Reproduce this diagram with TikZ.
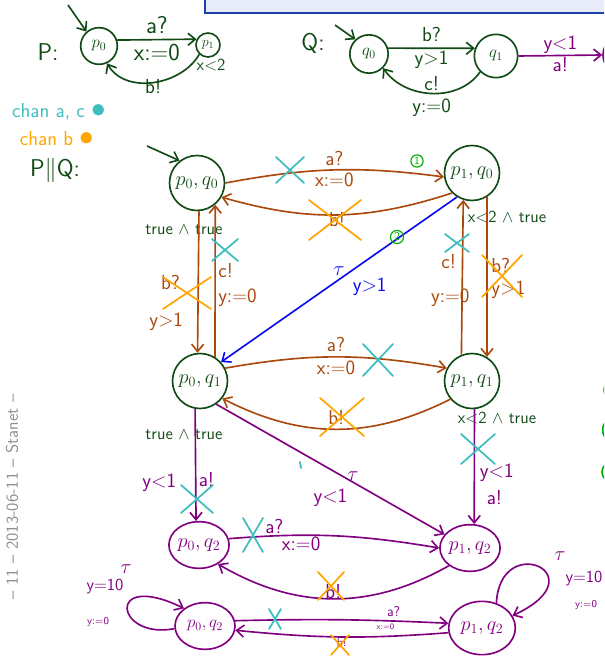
\documentclass[tikz,border=0pt]{standalone}
\usepackage{tikz}
\usetikzlibrary{arrows.meta, positioning, shapes.geometric}
\renewcommand{\familydefault}{\sfdefault}
\definecolor{hwGreen}{RGB}{16, 74, 20}
\definecolor{hwBrown}{RGB}{170, 72, 14}
\definecolor{hwPurple}{RGB}{128, 0, 128}
\definecolor{hwTeal}{RGB}{62, 190, 190}
\definecolor{hwOrange}{RGB}{255, 166, 0}
\definecolor{hwBlue}{RGB}{10, 10, 240}
\definecolor{hwLime}{RGB}{0, 176, 0}
\definecolor{slideBlue}{RGB}{232, 236, 250}
\definecolor{slideLine}{RGB}{30, 64, 170}
\tikzset{
  state/.style={circle, draw=hwGreen, text=hwGreen, line width=1.4pt, minimum size=1.65cm, inner sep=0pt, font=\LARGE},
  pstate/.style={ellipse, draw=hwPurple, text=hwPurple, line width=1.4pt, minimum width=1.8cm, minimum height=1.4cm, inner sep=0pt, font=\LARGE},
  hw/.style={line width=1.4pt, -{Straight Barb[length=2.2mm, width=3.6mm]}},
  lbl/.style={font=\LARGE, inner sep=1pt},
  xstroke/.style={line width=1.5pt, line cap=round},
  numbered/.style={circle, draw=hwLime, text=hwLime, line width=1pt, inner sep=1pt, font=\small},
}
% colour, centre, half width, half height
\newcommand{\crossat}[4]{\draw[xstroke, #1, shift={(#2)}] (-#3,-#4) -- (#3,#4) (-#3,#4) -- (#3,-#4);}

\begin{document}
\begin{tikzpicture}[x=0.03cm, y=-0.03cm]
  \useasboundingbox (0,0) rectangle (604,657);
  \begin{scope}
  \clip (0,0) rectangle (604,657);

  % slide title bar
  \fill[slideBlue] (205,-5) rectangle (610,13);
  \draw[slideLine, line width=1.2pt] (205,-5) -- (205,13) -- (610,13);

  % footer
  \node[rotate=90, text=black!45, font=\Large] (footer) at (12,497) {-- 11 -- 2013-06-11 -- Stanet --};

  % automaton P
  \node[hwGreen, font=\huge] (Plbl) at (48,52) {P:};
  \node[state, minimum size=1.1cm, font=\Large] (p0) at (99,46) {$p_0$};
  \node[state, minimum size=0.72cm, font=\large] (p1) at (208,45) {$p_1$};
  \coordinate (p0in) at (68,5);
  \draw[hw, hwGreen] (p0in) -- (p0.131);
  \draw[hw, hwGreen] (p0.18) -- node[lbl, font=\huge, above=3pt]{a?} node[lbl, font=\huge, below=2pt]{x:=0} (p1.153);
  \draw[hw, hwGreen] (p1.227) to[out=-120, in=-60]
    node[lbl, pos=.12, right=3pt, font=\Large]{x<2} node[lbl, pos=.5, below=-4pt]{b!} (p0.-65);

  % automaton Q
  \node[hwGreen, font=\huge] (Qlbl) at (313,43) {Q:};
  \node[state, minimum size=1.15cm, font=\Large] (q0) at (369,54) {$q_0$};
  \node[state, minimum size=1.3cm, font=\Large] (q1) at (496,56) {$q_1$};
  \node[pstate, minimum width=1.5cm, minimum height=1.35cm] (q2) at (628,55) {};
  \coordinate (q0in) at (335,25);
  \draw[hw, hwGreen] (q0in) -- (q0.133);
  \draw[hw, hwGreen] (q0.17) -- node[lbl, above=4pt]{b?} node[lbl, below=1pt]{y>1} (q1.160);
  \draw[hw, hwGreen] (q1.225) to[out=-125, in=-55]
    node[lbl, pos=.5, above=1pt]{c!} node[lbl, pos=.5, below=3pt]{y:=0} (q0.-45);
  \draw[hw, hwPurple] (q1.east) -- node[lbl, hwPurple, above]{y<1} node[lbl, hwPurple, below]{a!} (q2.west);

  % channels
  \node[hwTeal, font=\LARGE] (chanac) at (59,112) {chan a, c {\Huge$\bullet$}};
  \node[hwOrange, font=\LARGE] (chanb) at (57,139) {chan b {\Huge$\bullet$}};
  \node[hwGreen, font=\huge] (PQlbl) at (55,170) {P$\|$Q:};

  % product states
  \node[state] (p0q0) at (197,183) {$p_0,q_0$};
  \node[state] (p1q0) at (472,173) {$p_1,q_0$};
  \node[state] (p0q1) at (200,381) {$p_0,q_1$};
  \node[state] (p1q1) at (472,381) {$p_1,q_1$};
  \node[pstate] (p0q2) at (199,545) {$p_0,q_2$};
  \node[pstate] (p1q2) at (470,548) {$p_1,q_2$};
  \node[pstate, font=\Large] (p0q2b) at (205,626) {$p_0,q_2$};
  \node[pstate, minimum width=2cm, minimum height=1.6cm] (p1q2b) at (482,628) {$p_1,q_2$};

  \node[hwGreen, font=\Large] (inv00) at (184,230) {true $\wedge$ true};
  \node[hwGreen, font=\Large] (inv10) at (507,217) {x<2 $\wedge$ true};
  \node[hwGreen, font=\Large] (inv01) at (184,435) {true $\wedge$ true};
  \node[hwGreen, font=\Large] (inv11) at (497,418) {x<2 $\wedge$ true};

  \coordinate (init) at (147,146);
  \draw[hw, hwGreen] (init) -- (p0q0.128);

  % brown transitions
  \draw[hw, hwBrown] (p0q0.east) to[bend left=9]
    node[lbl, above=2pt]{a?} node[lbl, below=1pt]{x:=0} (p1q0.188);
  \draw[hw, hwBrown] (p1q0.-135) to[bend left=17]
    node[lbl, midway, yshift=-4pt]{b!} (p0q0.-30);
  \draw[hw, hwBrown] (p0q0.-86) --
    node[lbl, pos=.5, left=14pt]{b?} node[lbl, pos=.78, left=11pt]{y>1} (p0q1.95);
  \draw[hw, hwBrown] (p0q1.58) --
    node[lbl, pos=.39, right=1pt]{y:=0} node[lbl, pos=.57, right=1pt]{c!} (p0q0.-50);
  \draw[hw, hwBrown] (p1q0.-58) --
    node[lbl, pos=.43, right=2pt]{b?} node[lbl, pos=.58, right=2pt]{y>1} (p1q1.58);
  \draw[hw, hwBrown] (p1q1.112) --
    node[lbl, pos=.37, left=-8pt]{y:=0} node[lbl, pos=.6, left=4pt]{c!} (p1q0.-108);
  \draw[hw, hwBrown] (p0q1.27) to[bend left=10]
    node[lbl, above=3pt]{a?} node[lbl, below=2pt]{x:=0} (p1q1.153);
  \draw[hw, hwBrown] (p1q1.-140) to[bend left=27]
    node[lbl, pos=.5, above=2pt]{b!} (p0q1.-38);

  % tau step
  \draw[hw, hwBlue] (p1q0.-122) --
    node[lbl, pos=.5, above=2pt]{$\tau$} node[lbl, pos=.45, below right=4pt and 0pt]{y>1} (p0q1.42);
  \node[numbered] (one) at (417,161) {1};
  \node[numbered, font=\normalsize] (two) at (397,237) {2};

  % purple transitions
  \draw[hw, hwPurple] (p0q1.-100) --
    node[lbl, pos=.66, left=15pt]{y<1} node[lbl, pos=.63, right=1pt]{a!} (p0q2.97);
  \draw[hw, hwPurple] (p0q1.-55) --
    node[lbl, pos=.6, above]{$\tau$} node[lbl, pos=.5, below=15pt]{y<1} (p1q2.152);
  \draw[hw, hwPurple] (p1q1.-85) --
    node[lbl, pos=.55, right=3pt]{y<1} node[lbl, pos=.77, right=9pt]{a!} (p1q2.80);
  \draw[hw, hwPurple] (p0q2.12) to[bend left=7]
    node[lbl, pos=.2, above]{a?} node[lbl, pos=.33, below]{x:=0} (p1q2.180);
  \draw[hw, hwPurple] (p1q2.-140) to[bend left=30]
    node[lbl, pos=.5, above=-2pt]{b!} (p0q2.-45);
  \draw[hw, hwPurple] (p0q2b.10) to[bend left=2]
    node[font=\large, pos=.76, above]{a?} node[font=\scriptsize, pos=.72, below=-1pt]{x:=0} (p1q2b.172);
  \draw[hw, hwPurple] (p1q2b.188) to[bend left=5]
    node[font=\normalsize, pos=.5, below=-3pt]{b!} (p0q2b.-8);
  \draw[hw, hwPurple] (p0q2b.185) .. controls (115,640) and (105,570) .. (p0q2b.140);
  \draw[hw, hwPurple] (p1q2b.60) .. controls (500,530) and (600,575) .. (p1q2b.22);
  \node[hwPurple, font=\LARGE] (tauL) at (126,569) {$\tau$};
  \node[hwPurple, font=\Large] (guardL) at (105,587) {y=10};
  \node[hwPurple, font=\small] (resetL) at (98,622) {y:=0};
  \node[hwPurple, font=\LARGE] (tauR) at (560,556) {$\tau$};
  \node[hwPurple, font=\Large] (guardR) at (584,579) {y=10};
  \node[hwPurple, font=\small] (resetR) at (586,605) {y:=0};

  % struck-out transitions
  \crossat{hwTeal}{290,170}{14}{13}
  \crossat{hwTeal}{225,250}{13}{11}
  \crossat{hwTeal}{457,243}{12}{9}
  \crossat{hwTeal}{378,360}{15}{16}
  \crossat{hwTeal}{197,499}{16}{14}
  \crossat{hwTeal}{478,449}{17}{15}
  \crossat{hwTeal}{253,535}{10}{17}
  \crossat{hwTeal}{275,619}{6}{10}
  \draw[xstroke, hwTeal] (300,462) -- (301,468);
  \crossat{hwOrange}{335,220}{26}{20}
  \crossat{hwOrange}{187,293}{24}{16}
  \crossat{hwOrange}{502,276}{20}{21}
  \crossat{hwOrange}{342,417}{22}{19}
  \crossat{hwOrange}{331,586}{13}{14}
  \crossat{hwOrange}{340,645}{9}{10}

  % cut-off marks at the right edge
  \draw[hwLime, line width=1.4pt] (613,390) circle (0.27cm);
  \draw[hwLime, line width=1.4pt] (616,430) circle (0.4cm);
  \draw[hwLime, line width=1.4pt] (612,472) circle (0.3cm);
  \end{scope}
\end{tikzpicture}
\end{document}
